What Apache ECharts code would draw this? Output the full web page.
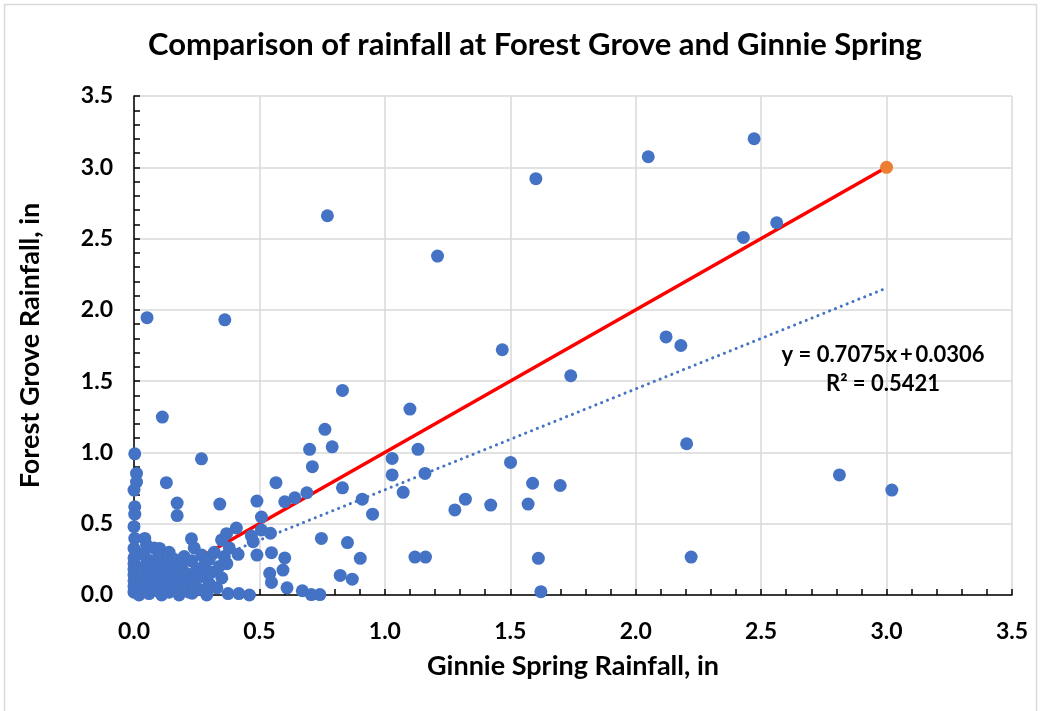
<!DOCTYPE html>
<html>
<head>
<meta charset="utf-8">
<script src="https://cdn.jsdelivr.net/npm/echarts@6/dist/echarts.min.js"></script>
<style>
html,body{margin:0;padding:0;background:#fff;}
#chart{width:1042px;height:711px;}
</style>
</head>
<body>
<div id="chart"></div>
<script>
const titleText = 'Comparison of rainfall at Forest Grove and Ginnie Spring';
const xAxisName = 'Ginnie Spring Rainfall, in';
const yAxisName = 'Forest Grove Rainfall, in';
const equationText = 'y = 0.7075x\u2009+\u20090.0306';
const r2Text = 'R² = 0.5421';

// Scattered points [Ginnie Spring, Forest Grove]
const outerPoints = [
  [0.052,1.945],[0.362,1.93],[0.771,2.66],[1.21,2.377],[1.602,2.92],[2.05,3.074],[2.472,3.2],
  [2.562,2.611],[2.429,2.508],[2.121,1.81],[2.18,1.75],[1.468,1.72],[1.741,1.538],[2.203,1.061],
  [2.812,0.842],[3.021,0.736],[2.221,0.266],
  [1.10,1.304],[1.132,1.022],[1.16,0.853],[1.073,0.72],[1.279,0.597],[1.321,0.672],[1.422,0.631],
  [1.571,0.638],[1.589,0.784],[1.699,0.768],[1.501,0.93],[1.12,0.266],[1.162,0.266],[1.612,0.257],
  [1.622,0.023],[1.029,0.958],[1.029,0.842],[0.70,1.022],[0.79,1.039],[0.761,1.162],[0.711,0.90],
  [0.831,1.435],[0.831,0.752],[0.91,0.672],[0.951,0.567],[0.747,0.397],[0.851,0.368],[0.902,0.257],
  [0.822,0.137],[0.87,0.111],[0.671,0.03],[0.707,0.003],[0.741,0.003]
];
const innerPoints = [
  [0.113,1.248],[0.003,0.99],[0.269,0.955],[0.01,0.853],[0.01,0.792],[0.0,0.736],[0.129,0.788],
  [0.566,0.788],[0.172,0.645],[0.172,0.557],[0.342,0.638],[0.49,0.659],[0.601,0.654],[0.641,0.682],
  [0.689,0.717],[0.508,0.547],[0.003,0.619],[0.003,0.567],[0.0,0.479],[0.003,0.397],[0.043,0.397],
  [0.408,0.47],[0.369,0.43],[0.349,0.386],[0.229,0.394],[0.24,0.33],[0.468,0.413],[0.475,0.374],
  [0.508,0.456],[0.544,0.433],[0.49,0.28],[0.548,0.297],[0.601,0.26],[0.594,0.175],[0.541,0.152],
  [0.548,0.088],[0.61,0.05],[0.375,0.01],[0.418,0.01],[0.46,0.0],[0.232,0.013],[0.415,0.285],
  [0.0,0.327],[0.102,0.327]
];
const clusterPoints = [
  [0,0.02],[0,0.06],[0,0.1],[0,0.14],[0,0.18],[0,0.22],[0,0.26],[0.01,0.3],
  [0.02,0.0],[0.03,0.04],[0.03,0.12],[0.04,0.2],[0.04,0.28],[0.05,0.35],
  [0.06,0.01],[0.06,0.08],[0.07,0.16],[0.07,0.24],[0.08,0.33],[0.09,0.03],[0.09,0.11],
  [0.1,0.19],[0.1,0.27],[0.11,0.0],[0.12,0.07],[0.12,0.14],[0.13,0.22],[0.14,0.02],[0.14,0.3],
  [0.15,0.1],[0.16,0.17],[0.16,0.25],[0.17,0.05],[0.18,0.0],[0.18,0.12],[0.19,0.21],[0.2,0.27],
  [0.2,0.07],[0.21,0.15],[0.22,0.02],[0.23,0.24],[0.24,0.1],[0.25,0.18],[0.26,0.04],[0.27,0.28],
  [0.27,0.13],[0.28,0.21],[0.29,0.0],[0.3,0.08],[0.3,0.25],[0.31,0.16],[0.32,0.3],[0.33,0.05],
  [0.34,0.2],[0.35,0.12],[0.36,0.27],[0.37,0.22],[0.38,0.33]
];
const oneToOneLine = [[0,0],[3,3]];
const oneToOnePoint = [[3,3]];
const trendSlope = 0.7075;
const trendIntercept = 0.0306;
const trendRange = [0, 3];
const xTicks = [0, 0.5, 1.0, 1.5, 2.0, 2.5, 3.0, 3.5];
const yTicks = [0, 0.5, 1.0, 1.5, 2.0, 2.5, 3.0, 3.5];

const FONT = 'Lato';
const chart = echarts.init(document.getElementById('chart'), null, {renderer: 'canvas'});
const trendData = trendRange.map(x => [x, trendSlope * x + trendIntercept]);
const scatterData = outerPoints.concat(innerPoints, clusterPoints);

const axisCommon = {
  type: 'value',
  min: xTicks[0],
  max: xTicks[xTicks.length - 1],
  interval: 0.5,
  axisLine: {show: true, lineStyle: {color: '#000', width: 1.5}},
  axisTick: {show: true, inside: true, length: 6, lineStyle: {color: '#000', width: 1.5}},
  minorTick: {show: true, splitNumber: 5, length: 6, lineStyle: {color: '#000', width: 1.5}},
  splitLine: {show: true, lineStyle: {color: '#d9d9d9', width: 1.5}},
  axisLabel: {
    color: '#000', fontFamily: FONT, fontWeight: 'bold', fontSize: 23,
    formatter: v => v.toFixed(1)
  },
  nameLocation: 'middle',
  nameTextStyle: {color: '#000', fontFamily: FONT, fontWeight: 'bold', fontSize: 27}
};

chart.setOption({
  animation: false,
  backgroundColor: '#fff',
  title: {
    text: titleText,
    left: 530, top: 24, textAlign: 'center',
    textStyle: {color: '#000', fontFamily: FONT, fontWeight: 'bold', fontSize: 31}
  },
  grid: {left: 134, right: 30, top: 96, bottom: 116},
  xAxis: Object.assign({}, axisCommon, {
    name: xAxisName, nameGap: 58,
    axisLabel: Object.assign({}, axisCommon.axisLabel, {margin: 25})
  }),
  yAxis: Object.assign({}, axisCommon, {
    min: yTicks[0], max: yTicks[yTicks.length - 1],
    name: yAxisName, nameGap: 90,
    axisLabel: Object.assign({}, axisCommon.axisLabel, {margin: 21})
  }),
  graphic: [
    {type: 'rect', shape: {x: 4.5, y: 4.5, width: 1032, height: 720}, style: {fill: 'none', stroke: '#d9d9d9', lineWidth: 1.5}, silent: true},
    {type: 'text', x: 883, y: 355, style: {text: equationText, fill: '#000', font: 'bold 22px ' + FONT, align: 'center', verticalAlign: 'middle'}, z: 10},
    {type: 'text', x: 883, y: 384, style: {text: r2Text, fill: '#000', font: 'bold 22px ' + FONT, align: 'center', verticalAlign: 'middle'}, z: 10}
  ],
  series: [
    {
      type: 'line', data: oneToOneLine, showSymbol: false, z: 1,
      lineStyle: {color: '#FF0000', width: 3.5}
    },
    {
      type: 'line', data: trendData, showSymbol: false, z: 1,
      lineStyle: {color: '#4472C4', width: 3, type: [0.1, 6.2], cap: 'round'}
    },
    {
      type: 'scatter', data: scatterData, symbolSize: 13, z: 3,
      itemStyle: {color: '#4472C4', opacity: 1}
    },
    {
      type: 'scatter', data: oneToOnePoint, symbolSize: 13, z: 4,
      itemStyle: {color: '#ED7D31', opacity: 1}
    }
  ]
});
</script>
</body>
</html>
